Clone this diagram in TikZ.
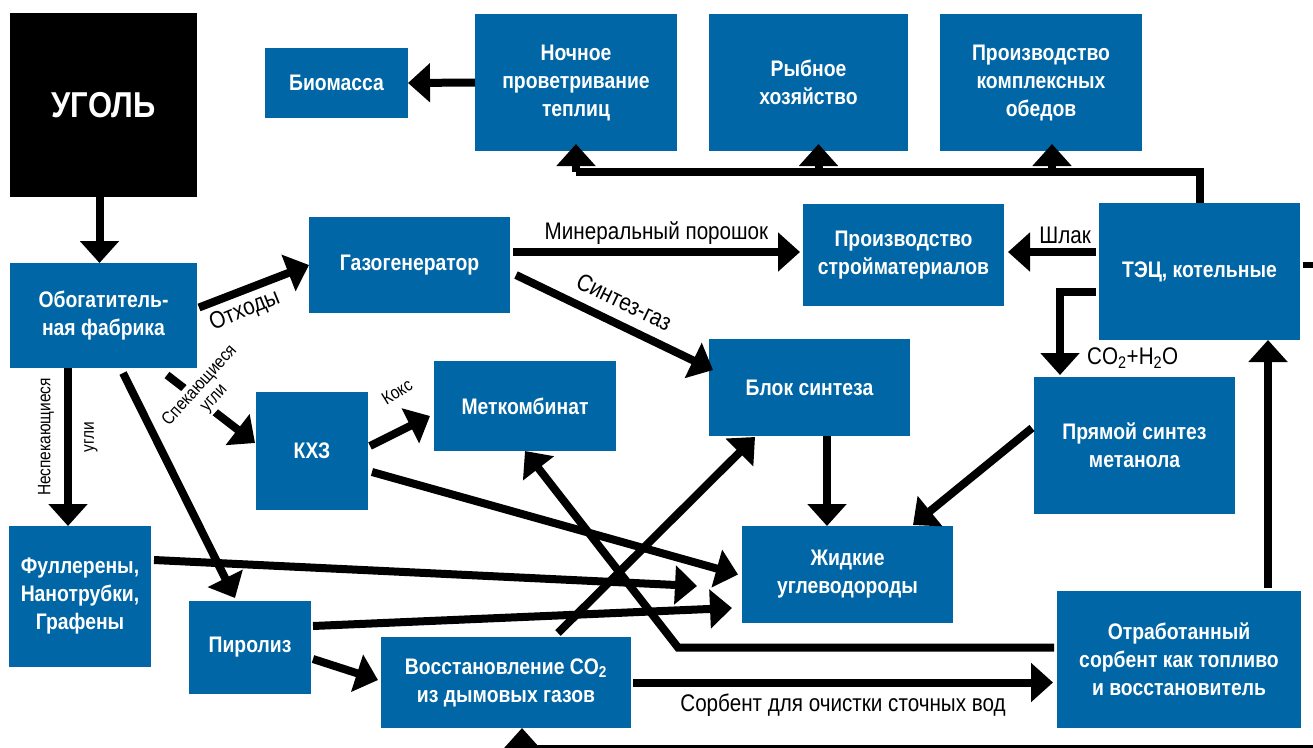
\documentclass[tikz,border=0pt]{standalone}
\usepackage{fontspec}
\setmainfont{Liberation Sans}
\newfontfamily\bfont{Liberation Sans}[FakeStretch=0.86]
\newfontfamily\lfont{Liberation Sans}[FakeStretch=0.86]
\usetikzlibrary{arrows.meta,calc}
\definecolor{boxblue}{RGB}{0,102,166}
\tikzset{
  box/.style={fill=boxblue, text=white, font=\bfont\bfseries\fontsize{22.5}{28}\selectfont,
    align=center, inner sep=0pt, outer sep=0pt, anchor=center},
  ln/.style={line width=8pt},
  arr/.style={line width=8pt, -{Triangle[width=38pt,length=22pt]}},
  lbl/.style={font=\lfont\fontsize{24}{26}\selectfont, inner sep=1pt},
  slbl/.style={font=\lfont\fontsize{18}{19}\selectfont, inner sep=1pt, align=center},
}
\begin{document}
\begin{tikzpicture}[x=1pt,y=-1pt]
\useasboundingbox (0,0) rectangle (1313,747);
% boxes
\node[box, fill=black, minimum width=187pt, minimum height=184pt, font=\bfont\bfseries\fontsize{36}{40}\selectfont] (ugol) at (103.5,105) {УГОЛЬ};
\node[box, minimum width=143pt, minimum height=70pt] (bio) at (336.5,83) {Биомасса};
\node[box, minimum width=202pt, minimum height=137pt] (noch) at (576,82.5) {Ночное\\проветривание\\теплиц};
\node[box, minimum width=199pt, minimum height=137pt] (ryb) at (808.5,82.5) {Рыбное\\хозяйство};
\node[box, minimum width=202pt, minimum height=137pt] (obed) at (1041,82.5) {Производство\\комплексных\\обедов};
\node[box, minimum width=187pt, minimum height=105pt] (obog) at (103.5,315.5) {Обогатитель-\\ная фабрика};
\node[box, minimum width=201pt, minimum height=96pt] (gaz) at (409.5,265) {Газогенератор};
\node[box, minimum width=201pt, minimum height=102pt] (stroi) at (903.5,255) {Производство\\стройматериалов};
\node[box, minimum width=201pt, minimum height=137pt] (tec) at (1199.5,271.5) {ТЭЦ, котельные};
\node[box, minimum width=112pt, minimum height=118pt] (kxz) at (312,451) {КХЗ};
\node[box, minimum width=182pt, minimum height=90pt] (met) at (525,406) {Меткомбинат};
\node[box, minimum width=201pt, minimum height=97pt] (blok) at (809.5,387.5) {Блок синтеза};
\node[box, minimum width=201pt, minimum height=137pt] (pryam) at (1134.5,445.5) {Прямой синтез\\метанола};
\node[box, minimum width=142pt, minimum height=141pt] (full) at (80,596.5) {Фуллерены,\\Нанотрубки,\\Графены};
\node[box, minimum width=211pt, minimum height=97pt] (zhid) at (847.5,574.5) {Жидкие\\углеводороды};
\node[box, minimum width=122pt, minimum height=93pt] (piro) at (250,647.5) {Пиролиз};
\node[box, minimum width=250pt, minimum height=91pt] (vosst) at (506,682.5) {Восстановление CO\textsubscript{2}\\из дымовых газов};
\node[box, minimum width=244pt, minimum height=137pt] (otrab) at (1179,659.5) {Отработанный\\сорбент как топливо\\и восстановитель};

% connectors
\draw[arr] ([xshift=-4pt]ugol.south) -- ([xshift=-4pt]obog.north);
\draw[arr] (noch.west) -- (bio.east);
\coordinate (bus) at (0,172);
\draw[ln] (tec.north) |- (noch.south |- bus);
\draw[arr] (noch.south |- bus) -- ($(noch.south)+(0,-7)$);
\draw[arr] ($(ryb.south)+(10,21)$) -- ($(ryb.south)+(10,-7)$);
\draw[arr] ($(obed.south)+(11,21)$) -- ($(obed.south)+(11,-7)$);

\draw[arr] ($(obog.east)+(2,-8)$) -- (gaz.west)
  node[lbl, pos=0.35, rotate=22, below=4pt, anchor=north] {Отходы};
\draw[arr] ($(gaz.east)+(3,-13)$) -- ($(stroi.west)+(-3,-3)$)
  node[lbl, midway, above=3pt] {Минеральный порошок};
\draw[arr] ($(gaz.east)+(6,10)$) -- ($(blok.north west)+(4,31)$)
  node[lbl, pos=0.5, sloped, above=9pt] {Синтез-газ};
\draw[arr] ($(tec.west)+(-3,-19.5)$) -- ($(stroi.east)+(4,-3)$)
  node[lbl, pos=0.35, above=3pt] {Шлак};
\draw[arr] ($(tec.west)+(-3,20.5)$) -| ($(pryam.north west)+(26,-2)$);
\node[lbl, anchor=west] (co2) at (1086,358) {CO\textsubscript{2}+H\textsubscript{2}O};
\draw[line width=6pt] ($(tec.east)+(3,-6.5)$) -- ++(14,0);
\draw[arr] ($(otrab.north)+(89,-3)$) -- ($(tec.south)+(68.5,0)$);
\draw[arr] ($(otrab.west)+(-3,-12)$) -- ++(-376,0) -- (met.south);
\draw[arr] ($(vosst.north)+(52,-4)$) -- ($(blok.south west)+(46,1)$);
\draw[arr] ($(piro.east)+(2,11.5)$) -- ($(vosst.west)+(-3,-2.5)$);
\draw[arr] ($(vosst.east)+(2,0)$) -- ($(otrab.west)+(-4,23)$)
  node[lbl, midway, below=6pt] {Сорбент для очистки сточных вод};
\coordinate (loopR) at (1320,749);
\draw[arr] (loopR) -| ($(vosst.south)+(16,0)$);
\draw[arr] ($(blok.south)+(17.5,0)$) -- ($(zhid.north west)+(85,0)$);
\draw[arr] ($(pryam.west)+(-2,-17.5)$) -- ($(zhid.north east)+(-40,-1)$);
\draw[arr] ($(kxz.east)+(4,21)$) -- ($(zhid.west)+(-4,0)$);
\draw[arr] ($(full.east)+(3,-36.5)$) -- ($(zhid.west)+(-45,11.5)$);
\draw[arr] ($(piro.east)+(2,-21.5)$) -- ($(zhid.west)+(-10,33.5)$);
\draw[arr] ($(obog.south)+(19.5,5)$) -- ($(piro.north)+(-15,-3)$);
\draw[arr] ($(obog.south)+(-35.5,0)$) -- ($(full.north)+(-12,0)$);
\node[slbl, rotate=90] (nesp) at (46,437) {Неспекающиеся};
\node[slbl, rotate=90] (ugli) at (91,437) {угли};
\draw[arr] ($(obog.south east)+(-30,7)$) -- ($(kxz.west)+(-1,-8)$);
\node[slbl, fill=white, rotate=48, inner sep=2pt] (spek) at (207,392) {Спекающиеся\\угли};
\draw[arr] ($(kxz.east)+(2,-5)$) -- ($(met.west)+(-4,10)$);
\node[slbl, rotate=32] (koks) at (397,392) {Кокс};
\end{tikzpicture}
\end{document}
